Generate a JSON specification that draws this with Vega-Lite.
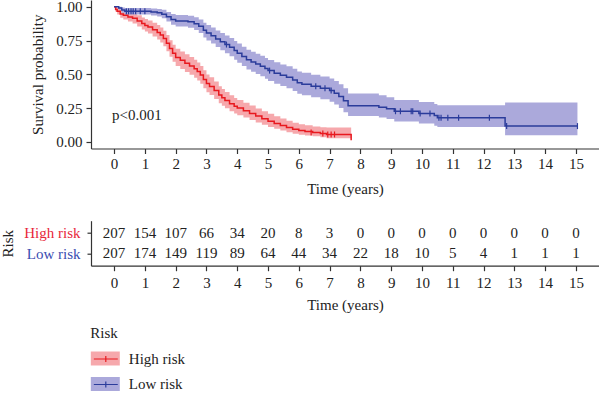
{
  "$schema": "https://vega.github.io/schema/vega-lite/v6.json",
  "padding": {"left": 0, "right": 0, "top": -1, "bottom": 0},
  "bounds": "flush",
  "spacing": 71.7,
  "config": {
    "font": "Liberation Serif",
    "view": {"stroke": null},
    "axis": {
      "labelFont": "Liberation Serif", "titleFont": "Liberation Serif",
      "labelFontSize": 15, "titleFontSize": 15, "titleFontWeight": "normal",
      "labelColor": "#222", "titleColor": "#222",
      "domainColor": "#333", "tickColor": "#333", "domainWidth": 1.2, "tickWidth": 1.2,
      "grid": false, "tickSize": 5, "labelPadding": 3, "labelOverlap": false
    },
    "legend": {
      "labelFont": "Liberation Serif", "titleFont": "Liberation Serif",
      "labelFontSize": 15, "titleFontSize": 15, "titleFontWeight": "normal",
      "labelColor": "#222", "titleColor": "#222"
    }
  },
  "datasets": {
    "km": [
      {"t": 0, "s": 1.0, "lo": 1.0, "hi": 1.0, "g": "High risk"},
      {"t": 0.05, "s": 0.98, "lo": 0.962, "hi": 0.998, "g": "High risk"},
      {"t": 0.1, "s": 0.966, "lo": 0.942, "hi": 0.99, "g": "High risk"},
      {"t": 0.2, "s": 0.947, "lo": 0.918, "hi": 0.977, "g": "High risk"},
      {"t": 0.3, "s": 0.937, "lo": 0.905, "hi": 0.97, "g": "High risk"},
      {"t": 0.45, "s": 0.925, "lo": 0.89, "hi": 0.961, "g": "High risk"},
      {"t": 0.6, "s": 0.914, "lo": 0.876, "hi": 0.953, "g": "High risk"},
      {"t": 0.75, "s": 0.895, "lo": 0.854, "hi": 0.937, "g": "High risk"},
      {"t": 0.9, "s": 0.876, "lo": 0.832, "hi": 0.921, "g": "High risk"},
      {"t": 1.0, "s": 0.862, "lo": 0.816, "hi": 0.909, "g": "High risk"},
      {"t": 1.1, "s": 0.85, "lo": 0.802, "hi": 0.899, "g": "High risk"},
      {"t": 1.25, "s": 0.83, "lo": 0.78, "hi": 0.881, "g": "High risk"},
      {"t": 1.4, "s": 0.81, "lo": 0.757, "hi": 0.864, "g": "High risk"},
      {"t": 1.5, "s": 0.79, "lo": 0.735, "hi": 0.846, "g": "High risk"},
      {"t": 1.6, "s": 0.765, "lo": 0.708, "hi": 0.823, "g": "High risk"},
      {"t": 1.7, "s": 0.73, "lo": 0.671, "hi": 0.79, "g": "High risk"},
      {"t": 1.8, "s": 0.69, "lo": 0.629, "hi": 0.752, "g": "High risk"},
      {"t": 1.9, "s": 0.655, "lo": 0.593, "hi": 0.718, "g": "High risk"},
      {"t": 2.0, "s": 0.625, "lo": 0.562, "hi": 0.689, "g": "High risk"},
      {"t": 2.15, "s": 0.603, "lo": 0.539, "hi": 0.668, "g": "High risk"},
      {"t": 2.3, "s": 0.582, "lo": 0.517, "hi": 0.648, "g": "High risk"},
      {"t": 2.45, "s": 0.561, "lo": 0.496, "hi": 0.627, "g": "High risk"},
      {"t": 2.6, "s": 0.54, "lo": 0.474, "hi": 0.607, "g": "High risk"},
      {"t": 2.7, "s": 0.52, "lo": 0.454, "hi": 0.587, "g": "High risk"},
      {"t": 2.8, "s": 0.495, "lo": 0.429, "hi": 0.562, "g": "High risk"},
      {"t": 2.9, "s": 0.462, "lo": 0.396, "hi": 0.529, "g": "High risk"},
      {"t": 3.0, "s": 0.432, "lo": 0.367, "hi": 0.499, "g": "High risk"},
      {"t": 3.1, "s": 0.41, "lo": 0.346, "hi": 0.477, "g": "High risk"},
      {"t": 3.25, "s": 0.38, "lo": 0.317, "hi": 0.446, "g": "High risk"},
      {"t": 3.4, "s": 0.347, "lo": 0.286, "hi": 0.412, "g": "High risk"},
      {"t": 3.5, "s": 0.326, "lo": 0.266, "hi": 0.39, "g": "High risk"},
      {"t": 3.6, "s": 0.306, "lo": 0.248, "hi": 0.369, "g": "High risk"},
      {"t": 3.75, "s": 0.282, "lo": 0.226, "hi": 0.344, "g": "High risk"},
      {"t": 3.9, "s": 0.263, "lo": 0.209, "hi": 0.324, "g": "High risk"},
      {"t": 4.0, "s": 0.25, "lo": 0.197, "hi": 0.31, "g": "High risk"},
      {"t": 4.2, "s": 0.23, "lo": 0.179, "hi": 0.289, "g": "High risk"},
      {"t": 4.4, "s": 0.21, "lo": 0.161, "hi": 0.268, "g": "High risk"},
      {"t": 4.6, "s": 0.19, "lo": 0.143, "hi": 0.247, "g": "High risk"},
      {"t": 4.8, "s": 0.17, "lo": 0.126, "hi": 0.226, "g": "High risk"},
      {"t": 5.0, "s": 0.152, "lo": 0.11, "hi": 0.207, "g": "High risk"},
      {"t": 5.2, "s": 0.136, "lo": 0.096, "hi": 0.189, "g": "High risk"},
      {"t": 5.4, "s": 0.12, "lo": 0.083, "hi": 0.172, "g": "High risk"},
      {"t": 5.6, "s": 0.105, "lo": 0.07, "hi": 0.155, "g": "High risk"},
      {"t": 5.8, "s": 0.092, "lo": 0.059, "hi": 0.14, "g": "High risk"},
      {"t": 6.0, "s": 0.083, "lo": 0.052, "hi": 0.13, "g": "High risk"},
      {"t": 6.2, "s": 0.076, "lo": 0.046, "hi": 0.122, "g": "High risk"},
      {"t": 6.45, "s": 0.068, "lo": 0.04, "hi": 0.113, "g": "High risk"},
      {"t": 6.7, "s": 0.061, "lo": 0.034, "hi": 0.108, "g": "High risk"},
      {"t": 6.9, "s": 0.054, "lo": 0.026, "hi": 0.106, "g": "High risk"},
      {"t": 7.7, "s": 0.012, "lo": 0.026, "hi": 0.106, "g": "High risk"},
      {"t": 0, "s": 1.0, "lo": 1.0, "hi": 1.0, "g": "Low risk"},
      {"t": 0.15, "s": 0.99, "lo": 0.977, "hi": 1.0, "g": "Low risk"},
      {"t": 0.25, "s": 0.976, "lo": 0.956, "hi": 0.995, "g": "Low risk"},
      {"t": 0.35, "s": 0.966, "lo": 0.942, "hi": 0.99, "g": "Low risk"},
      {"t": 1.2, "s": 0.961, "lo": 0.935, "hi": 0.987, "g": "Low risk"},
      {"t": 1.4, "s": 0.955, "lo": 0.927, "hi": 0.984, "g": "Low risk"},
      {"t": 1.55, "s": 0.945, "lo": 0.914, "hi": 0.977, "g": "Low risk"},
      {"t": 1.7, "s": 0.926, "lo": 0.891, "hi": 0.962, "g": "Low risk"},
      {"t": 1.85, "s": 0.906, "lo": 0.866, "hi": 0.947, "g": "Low risk"},
      {"t": 2.0, "s": 0.895, "lo": 0.853, "hi": 0.938, "g": "Low risk"},
      {"t": 2.4, "s": 0.888, "lo": 0.844, "hi": 0.933, "g": "Low risk"},
      {"t": 2.6, "s": 0.874, "lo": 0.827, "hi": 0.922, "g": "Low risk"},
      {"t": 2.75, "s": 0.855, "lo": 0.805, "hi": 0.906, "g": "Low risk"},
      {"t": 2.9, "s": 0.826, "lo": 0.772, "hi": 0.881, "g": "Low risk"},
      {"t": 3.0, "s": 0.806, "lo": 0.75, "hi": 0.864, "g": "Low risk"},
      {"t": 3.15, "s": 0.785, "lo": 0.727, "hi": 0.846, "g": "Low risk"},
      {"t": 3.3, "s": 0.762, "lo": 0.701, "hi": 0.825, "g": "Low risk"},
      {"t": 3.45, "s": 0.741, "lo": 0.678, "hi": 0.806, "g": "Low risk"},
      {"t": 3.6, "s": 0.72, "lo": 0.655, "hi": 0.787, "g": "Low risk"},
      {"t": 3.75, "s": 0.7, "lo": 0.633, "hi": 0.768, "g": "Low risk"},
      {"t": 3.9, "s": 0.676, "lo": 0.607, "hi": 0.746, "g": "Low risk"},
      {"t": 4.0, "s": 0.656, "lo": 0.586, "hi": 0.727, "g": "Low risk"},
      {"t": 4.15, "s": 0.632, "lo": 0.561, "hi": 0.704, "g": "Low risk"},
      {"t": 4.3, "s": 0.607, "lo": 0.535, "hi": 0.681, "g": "Low risk"},
      {"t": 4.45, "s": 0.591, "lo": 0.518, "hi": 0.666, "g": "Low risk"},
      {"t": 4.6, "s": 0.576, "lo": 0.502, "hi": 0.651, "g": "Low risk"},
      {"t": 4.75, "s": 0.56, "lo": 0.485, "hi": 0.637, "g": "Low risk"},
      {"t": 4.9, "s": 0.542, "lo": 0.466, "hi": 0.62, "g": "Low risk"},
      {"t": 5.0, "s": 0.527, "lo": 0.45, "hi": 0.606, "g": "Low risk"},
      {"t": 5.2, "s": 0.508, "lo": 0.43, "hi": 0.588, "g": "Low risk"},
      {"t": 5.4, "s": 0.492, "lo": 0.413, "hi": 0.573, "g": "Low risk"},
      {"t": 5.6, "s": 0.477, "lo": 0.397, "hi": 0.559, "g": "Low risk"},
      {"t": 5.8, "s": 0.457, "lo": 0.376, "hi": 0.54, "g": "Low risk"},
      {"t": 5.95, "s": 0.437, "lo": 0.356, "hi": 0.521, "g": "Low risk"},
      {"t": 6.1, "s": 0.426, "lo": 0.345, "hi": 0.511, "g": "Low risk"},
      {"t": 6.4, "s": 0.411, "lo": 0.33, "hi": 0.497, "g": "Low risk"},
      {"t": 6.7, "s": 0.396, "lo": 0.314, "hi": 0.483, "g": "Low risk"},
      {"t": 7.0, "s": 0.38, "lo": 0.297, "hi": 0.469, "g": "Low risk"},
      {"t": 7.15, "s": 0.36, "lo": 0.276, "hi": 0.45, "g": "Low risk"},
      {"t": 7.3, "s": 0.335, "lo": 0.25, "hi": 0.426, "g": "Low risk"},
      {"t": 7.45, "s": 0.303, "lo": 0.219, "hi": 0.396, "g": "Low risk"},
      {"t": 7.6, "s": 0.266, "lo": 0.19, "hi": 0.358, "g": "Low risk"},
      {"t": 8.6, "s": 0.256, "lo": 0.18, "hi": 0.345, "g": "Low risk"},
      {"t": 8.85, "s": 0.244, "lo": 0.168, "hi": 0.33, "g": "Low risk"},
      {"t": 9.1, "s": 0.226, "lo": 0.15, "hi": 0.31, "g": "Low risk"},
      {"t": 9.9, "s": 0.21, "lo": 0.135, "hi": 0.295, "g": "Low risk"},
      {"t": 10.4, "s": 0.195, "lo": 0.118, "hi": 0.28, "g": "Low risk"},
      {"t": 10.5, "s": 0.178, "lo": 0.11, "hi": 0.271, "g": "Low risk"},
      {"t": 12.7, "s": 0.116, "lo": 0.048, "hi": 0.29, "g": "Low risk"},
      {"t": 15.05, "s": 0.116, "lo": 0.048, "hi": 0.29, "g": "Low risk"}
    ],
    "cens": [
      {"t": 6.4, "s": 0.068, "g": "High risk"},
      {"t": 6.78, "s": 0.061, "g": "High risk"},
      {"t": 6.94, "s": 0.054, "g": "High risk"},
      {"t": 7.05, "s": 0.054, "g": "High risk"},
      {"t": 7.16, "s": 0.054, "g": "High risk"},
      {"t": 0.4, "s": 0.966, "g": "Low risk"},
      {"t": 0.47, "s": 0.966, "g": "Low risk"},
      {"t": 0.55, "s": 0.966, "g": "Low risk"},
      {"t": 0.62, "s": 0.966, "g": "Low risk"},
      {"t": 0.7, "s": 0.966, "g": "Low risk"},
      {"t": 0.85, "s": 0.966, "g": "Low risk"},
      {"t": 1.0, "s": 0.966, "g": "Low risk"},
      {"t": 3.65, "s": 0.72, "g": "Low risk"},
      {"t": 5.05, "s": 0.527, "g": "Low risk"},
      {"t": 6.55, "s": 0.411, "g": "Low risk"},
      {"t": 6.85, "s": 0.396, "g": "Low risk"},
      {"t": 7.05, "s": 0.38, "g": "Low risk"},
      {"t": 9.14, "s": 0.226, "g": "Low risk"},
      {"t": 9.3, "s": 0.226, "g": "Low risk"},
      {"t": 9.65, "s": 0.226, "g": "Low risk"},
      {"t": 9.7, "s": 0.226, "g": "Low risk"},
      {"t": 9.94, "s": 0.21, "g": "Low risk"},
      {"t": 10.26, "s": 0.21, "g": "Low risk"},
      {"t": 10.55, "s": 0.178, "g": "Low risk"},
      {"t": 10.62, "s": 0.178, "g": "Low risk"},
      {"t": 10.84, "s": 0.178, "g": "Low risk"},
      {"t": 11.19, "s": 0.178, "g": "Low risk"},
      {"t": 12.19, "s": 0.178, "g": "Low risk"},
      {"t": 12.75, "s": 0.116, "g": "Low risk"},
      {"t": 15.05, "s": 0.116, "g": "Low risk"}
    ],
    "ann": [{"t": -0.07, "s": 0.2, "label": "p<0.001"}],
    "risk": [
      {"t": 0, "n": 207, "g": "High risk"}, {"t": 1, "n": 154, "g": "High risk"},
      {"t": 2, "n": 107, "g": "High risk"}, {"t": 3, "n": 66, "g": "High risk"},
      {"t": 4, "n": 34, "g": "High risk"}, {"t": 5, "n": 20, "g": "High risk"},
      {"t": 6, "n": 8, "g": "High risk"}, {"t": 7, "n": 3, "g": "High risk"},
      {"t": 8, "n": 0, "g": "High risk"}, {"t": 9, "n": 0, "g": "High risk"},
      {"t": 10, "n": 0, "g": "High risk"}, {"t": 11, "n": 0, "g": "High risk"},
      {"t": 12, "n": 0, "g": "High risk"}, {"t": 13, "n": 0, "g": "High risk"},
      {"t": 14, "n": 0, "g": "High risk"}, {"t": 15, "n": 0, "g": "High risk"},
      {"t": 0, "n": 207, "g": "Low risk"}, {"t": 1, "n": 174, "g": "Low risk"},
      {"t": 2, "n": 149, "g": "Low risk"}, {"t": 3, "n": 119, "g": "Low risk"},
      {"t": 4, "n": 89, "g": "Low risk"}, {"t": 5, "n": 64, "g": "Low risk"},
      {"t": 6, "n": 44, "g": "Low risk"}, {"t": 7, "n": 34, "g": "Low risk"},
      {"t": 8, "n": 22, "g": "Low risk"}, {"t": 9, "n": 18, "g": "Low risk"},
      {"t": 10, "n": 10, "g": "Low risk"}, {"t": 11, "n": 5, "g": "Low risk"},
      {"t": 12, "n": 4, "g": "Low risk"}, {"t": 13, "n": 1, "g": "Low risk"},
      {"t": 14, "n": 1, "g": "Low risk"}, {"t": 15, "n": 1, "g": "Low risk"}
    ]
  },
  "vconcat": [
    {
      "width": 508,
      "height": 148.5,
      "layer": [
        {
          "data": {"name": "km"},
          "mark": {"type": "area", "interpolate": "step-after", "opacity": 1},
          "encoding": {
            "x": {"field": "t", "type": "quantitative", "title": "Time (years)",
              "scale": {"domain": [-0.75, 15.75], "nice": false, "zero": false},
              "axis": {"values": [0,1,2,3,4,5,6,7,8,9,10,11,12,13,14,15], "labelPadding": 3, "titlePadding": 9.5}},
            "y": {"field": "lo", "type": "quantitative", "title": "Survival probability",
              "scale": {"domain": [-0.05, 1.05], "nice": false, "zero": false},
              "axis": {"values": [0, 0.25, 0.5, 0.75, 1], "format": ".2f", "labelPadding": 4, "titlePadding": 10}},
            "y2": {"field": "hi"},
            "fill": {"field": "g", "type": "nominal",
              "scale": {"domain": ["High risk", "Low risk"], "range": ["#F6A8AC", "#ABA9DB"]},
              "legend": {"orient": "none", "legendX": -0.7, "legendY": 326, "title": "Risk", "padding": 0,
                "symbolType": "M-2.07,-1H2.07V1H-2.07Z", "symbolSize": 196, "symbolStrokeWidth": 0, "symbolOpacity": 1,
                "symbolOffset": 7.5, "labelOffset": 16, "rowPadding": 9.5, "titlePadding": 10}}
          }
        },
        {
          "data": {"name": "km"},
          "mark": {"type": "line", "interpolate": "step-after", "strokeWidth": 1.5},
          "encoding": {
            "x": {"field": "t", "type": "quantitative", "title": "Time (years)",
              "axis": {"values": [0,1,2,3,4,5,6,7,8,9,10,11,12,13,14,15], "labelPadding": 3, "titlePadding": 9.5}},
            "y": {"field": "s", "type": "quantitative", "title": "Survival probability",
              "axis": {"values": [0, 0.25, 0.5, 0.75, 1], "format": ".2f", "labelPadding": 4, "titlePadding": 10}},
            "stroke": {"field": "g", "type": "nominal",
              "scale": {"range": ["#E8191F", "#2B3C9B"]},
              "legend": {"orient": "none", "legendX": -0.7, "legendY": 326, "title": "Risk", "titleOpacity": 0, "labelOpacity": 0, "padding": 0,
                "symbolType": "M-1.71,0H1.71M0,-0.43V0.43", "symbolSize": 196, "symbolStrokeWidth": 1.2, "symbolFillColor": "transparent",
                "symbolOffset": 7.5, "labelOffset": 16, "rowPadding": 9.5, "titlePadding": 10}}
          }
        },
        {
          "data": {"name": "cens"},
          "mark": {"type": "point", "shape": "M0,-1L0,1", "size": 36, "strokeWidth": 1.2, "opacity": 1, "filled": false},
          "encoding": {
            "x": {"field": "t", "type": "quantitative", "title": "Time (years)",
              "axis": {"values": [0,1,2,3,4,5,6,7,8,9,10,11,12,13,14,15], "labelPadding": 3, "titlePadding": 9.5}},
            "y": {"field": "s", "type": "quantitative", "title": "Survival probability",
              "axis": {"values": [0, 0.25, 0.5, 0.75, 1], "format": ".2f", "labelPadding": 4, "titlePadding": 10}},
            "stroke": {"field": "g", "type": "nominal"}
          }
        },
        {
          "data": {"name": "ann"},
          "mark": {"type": "text", "align": "left", "fontSize": 15, "font": "Liberation Serif", "color": "#222"},
          "encoding": {
            "x": {"field": "t", "type": "quantitative", "title": "Time (years)",
              "axis": {"values": [0,1,2,3,4,5,6,7,8,9,10,11,12,13,14,15], "labelPadding": 3, "titlePadding": 9.5}},
            "y": {"field": "s", "type": "quantitative", "title": "Survival probability",
              "axis": {"values": [0, 0.25, 0.5, 0.75, 1], "format": ".2f", "labelPadding": 4, "titlePadding": 10}},
            "text": {"field": "label"}
          }
        }
      ]
    },
    {
      "width": 508,
      "height": 45,
      "data": {"name": "risk"},
      "mark": {"type": "text", "fontSize": 15, "font": "Liberation Serif", "color": "#222"},
      "encoding": {
        "x": {"field": "t", "type": "quantitative", "title": "Time (years)",
          "scale": {"domain": [-0.75, 15.75], "nice": false, "zero": false},
          "axis": {"values": [0,1,2,3,4,5,6,7,8,9,10,11,12,13,14,15], "labelPadding": 5, "titlePadding": 7}},
        "y": {"field": "g", "type": "nominal", "title": "Risk",
          "scale": {"type": "point", "padding": 0.6, "domain": ["High risk", "Low risk"]},
          "axis": {"tickSize": 4, "labelPadding": 7, "titlePadding": 8,
            "labelColor": {"condition": {"test": "datum.value === 'High risk'", "value": "#E8263A"}, "value": "#3A4DB0"}}},
        "text": {"field": "n", "type": "quantitative"}
      }
    }
  ]
}
